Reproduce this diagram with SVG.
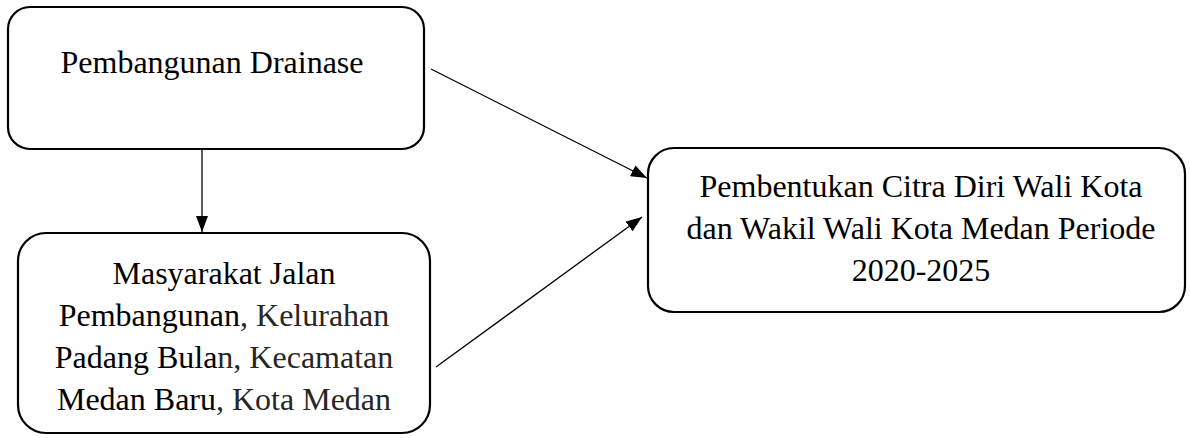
<svg xmlns="http://www.w3.org/2000/svg" width="1190" height="438" viewBox="0 0 1190 438">
<style>
.box{fill:#fff;stroke:#000;stroke-width:2.2}
.t{font-family:"Liberation Serif","Times New Roman",serif;font-size:32px;fill:#000;text-anchor:middle}
.g{fill:#262626}
.conn{stroke:#000;stroke-width:1.3;fill:none}
</style>
<defs>
<marker id="ah" viewBox="0 0 16 12" refX="16" refY="6" markerWidth="16" markerHeight="12" markerUnits="userSpaceOnUse" orient="auto">
<path d="M0,0 L16,6 L0,12 Z" fill="#000"/>
</marker>
</defs>
<rect width="1190" height="438" fill="#fff"/>
<g id="node-drainase">
<rect class="box" x="8" y="7" width="416" height="142" rx="22"/>
<text class="t" x="212" y="73">Pembangunan Drainase</text>
</g>
<g id="node-masyarakat">
<rect class="box" x="18" y="233" width="412" height="200" rx="28"/>
<text class="t" x="224" y="284">Masyarakat Jalan</text>
<text class="t" x="224" y="326">Pembangunan<tspan class="g">, Kelurahan</tspan></text>
<text class="t" x="224" y="368">Padang Bula<tspan class="g">n, Kecamatan</tspan></text>
<text class="t" x="224" y="410">Medan Baru<tspan class="g">, Kota Medan</tspan></text>
</g>
<g id="node-citra">
<rect class="box" x="648" y="148" width="537" height="164" rx="26"/>
<text class="t" x="921" y="197">Pembentukan Citra Diri Wali Kota</text>
<text class="t" x="921" y="239">dan Wakil Wali Kota Medan Periode</text>
<text class="t" x="921" y="281">2020-2025</text>
</g>
<g id="connectors">
<line class="conn" x1="202" y1="150" x2="202" y2="232" marker-end="url(#ah)"/>
<line class="conn" x1="431" y1="69" x2="647" y2="178" marker-end="url(#ah)"/>
<line class="conn" x1="436" y1="367" x2="642" y2="217" marker-end="url(#ah)"/>
</g>
</svg>
